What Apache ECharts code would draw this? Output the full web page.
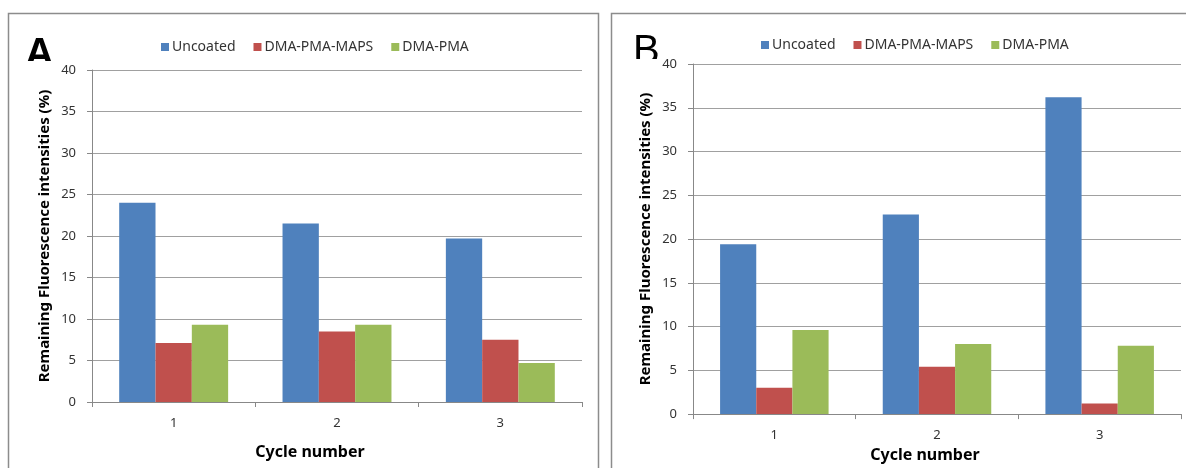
<!DOCTYPE html>
<html>
<head>
<meta charset="utf-8">
<script src="https://cdn.jsdelivr.net/npm/echarts@6/dist/echarts.min.js"></script>
<style>
html,body{margin:0;padding:0;background:#fff;}
#chart{width:1186px;height:468px;}
</style>
</head>
<body>
<div id="chart"></div>
<script>
const categories = ['1', '2', '3'];
const seriesNames = ['Uncoated', 'DMA-PMA-MAPS', 'DMA-PMA'];
const panelA_uncoated = [24.0, 21.5, 19.7];
const panelA_maps = [7.1, 8.5, 7.5];
const panelA_dmapma = [9.3, 9.3, 4.7];
const panelB_uncoated = [19.4, 22.8, 36.2];
const panelB_maps = [3.0, 5.4, 1.2];
const panelB_dmapma = [9.6, 8.0, 7.8];
const colors = ['#4F81BD', '#C0504D', '#9BBB59'];
const yTitle = 'Remaining Fluorescence intensities (%)';
const xTitle = 'Cycle number';

const FONT = '"Noto Sans", sans-serif';
const chart = echarts.init(document.getElementById('chart'), null, {renderer: 'canvas'});

function xAxis(gridIndex, gap, shift) {
  return {
    type: 'category', gridIndex, data: categories,
    boundaryGap: true,
    axisLine: {lineStyle: {color: '#888', width: 1}},
    axisTick: {show: true, alignWithLabel: false, length: 5, lineStyle: {color: '#888'}},
    axisLabel: {color: '#333', fontSize: 13, fontFamily: FONT, margin: 15},
    name: xTitle, nameLocation: 'middle', nameGap: gap,
    nameTextStyle: {color: '#000', fontSize: 16, fontWeight: 'bold', fontFamily: FONT, padding: [0, shift, 0, 0]}
  };
}
function yAxis(gridIndex) {
  return {
    type: 'value', gridIndex, min: 0, max: 40, interval: 5,
    axisLine: {show: true, lineStyle: {color: '#888', width: 1}},
    axisTick: {show: true, length: 5, lineStyle: {color: '#888'}},
    axisLabel: {color: '#333', fontSize: 13, fontFamily: FONT, margin: 16},
    splitLine: {show: true, lineStyle: {color: '#a0a0a0', width: 1}},
    name: yTitle, nameLocation: 'middle', nameGap: 40,
    nameTextStyle: {color: '#000', fontSize: 15, fontWeight: 'bold', fontFamily: FONT}
  };
}
function bars(idx, dataArr) {
  return dataArr.map((d, i) => ({
    name: seriesNames[i], type: 'bar', xAxisIndex: idx, yAxisIndex: idx,
    data: d, barGap: '0%', barCategoryGap: '33.3%',
    itemStyle: {color: colors[i]}, animation: false
  }));
}
function legend(left, top) {
  return {
    data: seriesNames, left, top, itemWidth: 8, itemHeight: 8, itemGap: 18,
    icon: 'rect',
    textStyle: {color: '#333', fontSize: 14, fontFamily: FONT, padding: [0, 0, 0, -2]}
  };
}

chart.setOption({
  animation: false,
  color: colors,
  grid: [
    {left: 92, width: 490, top: 70, height: 332, containLabel: false},
    {left: 693, width: 488, top: 64, height: 353, containLabel: false}
  ],
  legend: [legend(156, 35), legend(756, 33)],
  xAxis: [xAxis(0, 42, 54), xAxis(1, 27, 24)],
  yAxis: [yAxis(0), yAxis(1)],
  series: [
    ...bars(0, [panelA_uncoated, panelA_maps, panelA_dmapma]),
    ...bars(1, [panelB_uncoated, panelB_maps, panelB_dmapma])
  ],
  graphic: [
    {type: 'rect', shape: {x: 8.5, y: 13.5, width: 590, height: 470}, style: {fill: 'none', stroke: '#8c8c8c', lineWidth: 1.5}, z: 1, silent: true},
    {type: 'rect', shape: {x: 611.5, y: 13.5, width: 600, height: 470}, style: {fill: 'none', stroke: '#8c8c8c', lineWidth: 1.5}, z: 1, silent: true},
    {type: 'text', left: 25, top: 35, style: {text: 'A', fill: '#000', font: 'bold 40px "Liberation Sans", sans-serif'}, z: 10},
    {type: 'rect', shape: {x: 20, y: 61, width: 40, height: 18}, style: {fill: '#fff'}, z: 11},
    {type: 'text', left: 633, top: 32, style: {text: 'B', fill: '#000', font: '40px "Liberation Sans", sans-serif'}, z: 10},
    {type: 'rect', shape: {x: 628, y: 59, width: 32, height: 18}, style: {fill: '#fff'}, z: 11}
  ]
});
</script>
</body>
</html>
